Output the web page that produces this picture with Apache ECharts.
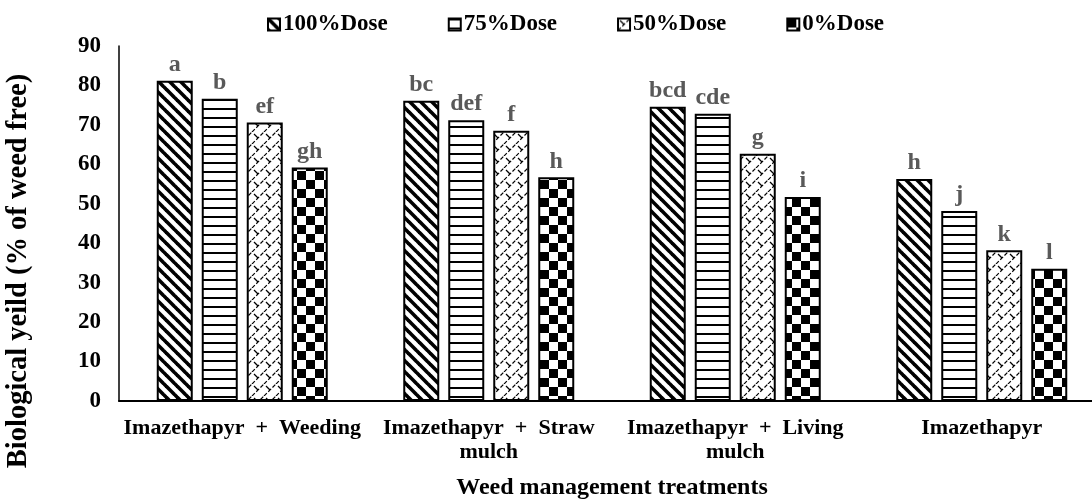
<!DOCTYPE html>
<html>
<head>
<meta charset="utf-8">
<script src="https://cdn.jsdelivr.net/npm/echarts@6/dist/echarts.min.js"></script>
<style>
  html, body { margin: 0; padding: 0; background: #fff; }
  #chart { width: 1092px; height: 500px; }
</style>
</head>
<body>
<div id="chart"></div>
<script>
// chart data
var categories = ['Imazethapyr  +  Weeding', 'Imazethapyr  +  Straw\nmulch', 'Imazethapyr  +  Living\nmulch', 'Imazethapyr']
var seriesNames = ['100%Dose', '75%Dose', '50%Dose', '0%Dose']
var dose100 = [81.2, 76.1, 74.6, 56.3]
var dose75 = [76.6, 71.2, 72.8, 48.2]
var dose50 = [70.6, 68.5, 62.7, 38.2]
var dose0 = [59.2, 56.7, 51.7, 33.5]
var letters100 = ['a', 'bc', 'bcd', 'h']
var letters75 = ['b', 'def', 'cde', 'j']
var letters50 = ['ef', 'f', 'g', 'k']
var letters0 = ['gh', 'h', 'i', 'l']
var yTicks = { min: 0, max: 90, interval: 10 }

var FONT = '"Liberation Serif", "Times New Roman", serif'

// hatch patterns like the excel fills
function makeCanvas(w, h) {
  var c = document.createElement('canvas')
  c.width = w
  c.height = h
  var ctx = c.getContext('2d')
  ctx.fillStyle = '#fff'
  ctx.fillRect(0, 0, w, h)
  return { c: c, ctx: ctx }
}

function diagPattern() {
  var p = makeCanvas(11, 11)
  var ctx = p.ctx
  ctx.strokeStyle = '#000'
  ctx.lineWidth = 3.6
  ;[-11, 0, 11].forEach(function(o) {
    ctx.beginPath()
    ctx.moveTo(o - 1, -1)
    ctx.lineTo(o + 12, 12)
    ctx.stroke()
  })
  return p.c
}

function horizPattern() {
  var p = makeCanvas(9, 9)
  p.ctx.fillStyle = '#000'
  p.ctx.fillRect(0, 0, 9, 2)
  return p.c
}

function trellisPattern() {
  var p = makeCanvas(12, 12)
  var ctx = p.ctx
  ctx.strokeStyle = '#000'
  ctx.lineWidth = 1.2
  ctx.setLineDash([4, 2])
  ;[-12, 0, 12].forEach(function(o) {
    ctx.beginPath()
    ctx.moveTo(o, 12)
    ctx.lineTo(o + 12, 0)
    ctx.stroke()
  })
  ctx.setLineDash([])
  ctx.beginPath()
  ctx.moveTo(2, 2)
  ctx.lineTo(6, 6)
  ctx.stroke()
  return p.c
}

function checkerPattern() {
  var p = makeCanvas(18, 18)
  p.ctx.fillStyle = '#000'
  p.ctx.fillRect(0, 0, 9, 9)
  p.ctx.fillRect(9, 9, 9, 9)
  return p.c
}

var patterns = [diagPattern(), horizPattern(), trellisPattern(), checkerPattern()]
var values = [dose100, dose75, dose50, dose0]
var letters = [letters100, letters75, letters50, letters0]

var chart = echarts.init(document.getElementById('chart'))

var series = seriesNames.map(function(name, i) {
  return {
    name: name,
    type: 'bar',
    barWidth: 36,
    barGap: '25%',
    data: values[i],
    itemStyle: {
      color: { image: patterns[i], repeat: 'repeat' },
      borderColor: '#000',
      borderWidth: 2
    },
    label: {
      show: true,
      position: 'top',
      distance: 4,
      color: '#595959',
      fontFamily: FONT,
      fontWeight: 'bold',
      fontSize: 24,
      formatter: function(p) {
        return letters[i][p.dataIndex]
      }
    },
    animation: false
  }
})

chart.setOption({
  animation: false,
  legend: {
    top: 8,
    left: 262,
    itemWidth: 12,
    itemHeight: 12,
    itemGap: 60,
    icon: 'rect',
    textStyle: {
      fontFamily: FONT,
      fontWeight: 'bold',
      fontSize: 23,
      color: '#000',
      padding: [0, 0, 0, -2]
    },
    data: seriesNames
  },
  grid: {
    left: 119,
    right: -13,
    top: 46,
    bottom: 99,
    containLabel: false,
    outerBoundsMode: 'none'
  },
  xAxis: {
    type: 'category',
    data: categories,
    name: 'Weed management treatments',
    nameLocation: 'middle',
    nameGap: 75,
    nameTextStyle: {
      fontFamily: FONT,
      fontWeight: 'bold',
      fontSize: 24,
      color: '#000'
    },
    axisLine: { lineStyle: { color: '#000', width: 2 } },
    axisTick: { show: false },
    axisLabel: {
      interval: 0,
      margin: 15,
      fontFamily: FONT,
      fontWeight: 'bold',
      fontSize: 22,
      lineHeight: 24,
      color: '#000'
    }
  },
  yAxis: {
    type: 'value',
    min: yTicks.min,
    max: yTicks.max,
    interval: yTicks.interval,
    axisLine: { show: true, lineStyle: { color: '#000', width: 1.5 } },
    axisTick: { show: false },
    splitLine: { show: false },
    axisLabel: {
      margin: 18,
      fontFamily: FONT,
      fontWeight: 'bold',
      fontSize: 23,
      color: '#000'
    }
  },
  graphic: [{
    type: 'text',
    x: 19,
    y: 271,
    rotation: Math.PI / 2,
    style: {
      text: 'Biological yeild (% of weed free)',
      fontFamily: FONT,
      fontWeight: 'bold',
      fontSize: 28.5,
      fill: '#000',
      textAlign: 'center',
      textVerticalAlign: 'middle'
    }
  }],
  series: series
})
</script>
</body>
</html>
